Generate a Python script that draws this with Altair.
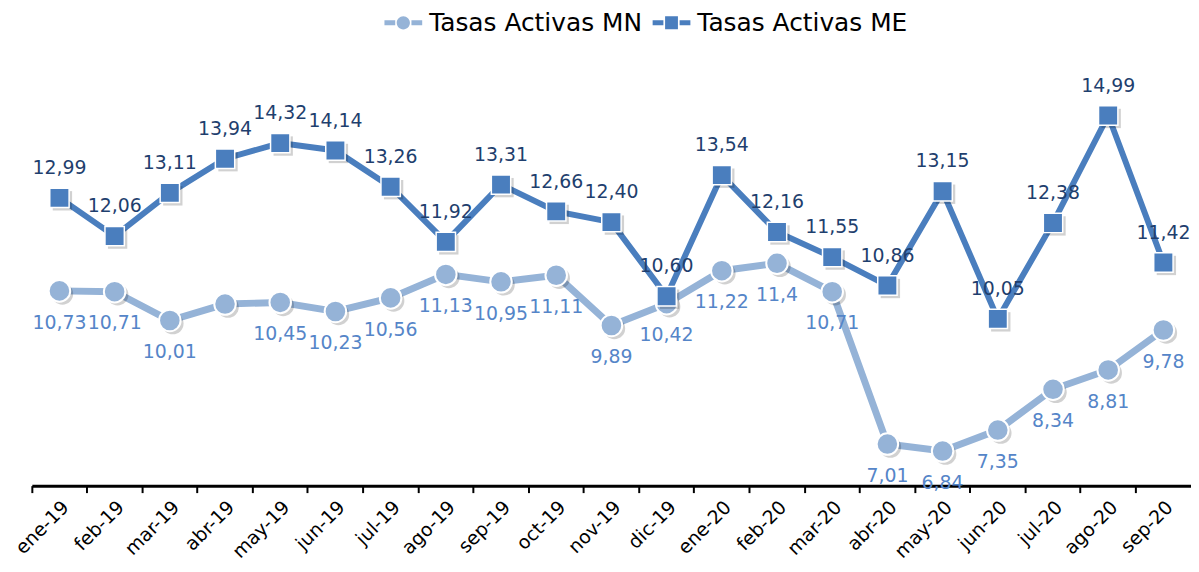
import altair as alt
import pandas as pd

months = ["ene-19", "feb-19", "mar-19", "abr-19", "may-19", "jun-19", "jul-19",
          "ago-19", "sep-19", "oct-19", "nov-19", "dic-19", "ene-20", "feb-20",
          "mar-20", "abr-20", "may-20", "jun-20", "jul-20", "ago-20", "sep-20"]
mn = [10.73, 10.71, 10.01, 10.41, 10.45, 10.23, 10.56, 11.13, 10.95, 11.11, 9.89,
      10.42, 11.22, 11.40, 10.71, 7.01, 6.84, 7.35, 8.34, 8.81, 9.78]
me = [12.99, 12.06, 13.11, 13.94, 14.32, 14.14, 13.26, 11.92, 13.31, 12.66, 12.40,
      10.60, 13.54, 12.16, 11.55, 10.86, 13.15, 10.05, 12.38, 14.99, 11.42]
mn_labels = ["10,73", "10,71", "10,01", "", "10,45", "10,23", "10,56", "11,13", "10,95",
             "11,11", "9,89", "10,42", "11,22", "11,4", "10,71", "7,01", "6,84", "7,35",
             "8,34", "8,81", "9,78"]
me_labels = ["12,99", "12,06", "13,11", "13,94", "14,32", "14,14", "13,26", "11,92", "13,31",
             "12,66", "12,40", "10,60", "13,54", "12,16", "11,55", "10,86", "13,15", "10,05",
             "12,38", "14,99", "11,42"]

S_MN = "Tasas Activas MN"
S_ME = "Tasas Activas ME"

df = pd.DataFrame({
    "mes": months * 2,
    "serie": [S_MN] * len(months) + [S_ME] * len(months),
    "valor": mn + me,
    "etiqueta": mn_labels + me_labels,
})

FONT = "DejaVu Sans"
C_MN = "#95b3d7"
C_ME = "#4a7ebe"

x_enc = alt.X("mes:O", sort=months, title=None,
              scale=alt.Scale(type="band", paddingInner=0, paddingOuter=0),
              axis=alt.Axis(labelAngle=-45, labelFontSize=19, labelFont=FONT,
                            labelColor="black", domainColor="black", domainWidth=3,
                            tickColor="black", tickWidth=2, tickSize=7,
                            bandPosition=0, labelPadding=5, grid=False))
y_enc = alt.Y("valor:Q", scale=alt.Scale(domain=[6, 17], nice=False, zero=False),
              axis=None)

p_mn = ("M-1,-0.13L-0.43,-0.13L-0.43,0.13L-1,0.13Z "
        "M0.43,-0.13L1,-0.13L1,0.13L0.43,0.13Z "
        "M-0.35,0A0.35,0.35 0 1,0 0.35,0A0.35,0.35 0 1,0 -0.35,0Z")
p_me = ("M-1,-0.13L-0.43,-0.13L-0.43,0.13L-1,0.13Z "
        "M0.43,-0.13L1,-0.13L1,0.13L0.43,0.13Z "
        "M-0.34,-0.34L0.34,-0.34L0.34,0.34L-0.34,0.34Z")

legend = alt.Legend(
    orient="none", legendX=355, legendY=-29, direction="horizontal", title=None,
    symbolSize=1444, labelFontSize=25, labelFont=FONT, labelColor="black",
    labelOffset=7, columnPadding=10, symbolStrokeWidth=0, symbolOpacity=1,
    labelLimit=0)

base = alt.Chart(df).encode(x=x_enc, y=y_enc)

mn_df = base.transform_filter(alt.datum.serie == S_MN)
me_df = base.transform_filter(alt.datum.serie == S_ME)

legend_layer = base.mark_point(filled=True, size=0, opacity=1).encode(
    color=alt.Color("serie:N", scale=alt.Scale(domain=[S_MN, S_ME], range=[C_MN, C_ME]),
                    legend=legend),
    shape=alt.Shape("serie:N", scale=alt.Scale(domain=[S_MN, S_ME], range=[p_mn, p_me]),
                    legend=legend),
)

line_mn = mn_df.mark_line(strokeWidth=7, color=C_MN)
line_me = me_df.mark_line(strokeWidth=6, color=C_ME)

shadow_mn = mn_df.mark_point(shape="circle", size=470, filled=True, color="#000000",
                             opacity=0.18, xOffset=3, yOffset=3)
shadow_me = me_df.mark_point(shape="square", size=380, filled=True, color="#000000",
                             opacity=0.18, xOffset=3, yOffset=3)

pts_mn = mn_df.mark_point(shape="circle", size=470, filled=True, fill=C_MN,
                          stroke="white", strokeWidth=2, opacity=1)
pts_me = me_df.mark_point(shape="square", size=380, filled=True, fill=C_ME,
                          stroke="white", strokeWidth=1.5, opacity=1)

txt_mn = mn_df.mark_text(dy=32, fontSize=19, font=FONT, color="#5585c8").encode(
    text="etiqueta:N")
txt_me = me_df.mark_text(dy=-30, fontSize=19, font=FONT, color="#1f3f6e").encode(
    text="etiqueta:N")

chart = alt.layer(
    line_mn, shadow_mn, pts_mn, line_me, shadow_me, pts_me, txt_mn, txt_me, legend_layer
).properties(
    width=1167, height=456,
    autosize=alt.AutoSizeParams(type="none"),
    padding={"left": 24, "top": 23, "right": 0, "bottom": 77},
).configure_view(stroke=None)

chart.save("out.html", embed_options={"renderer": "svg", "actions": False})
